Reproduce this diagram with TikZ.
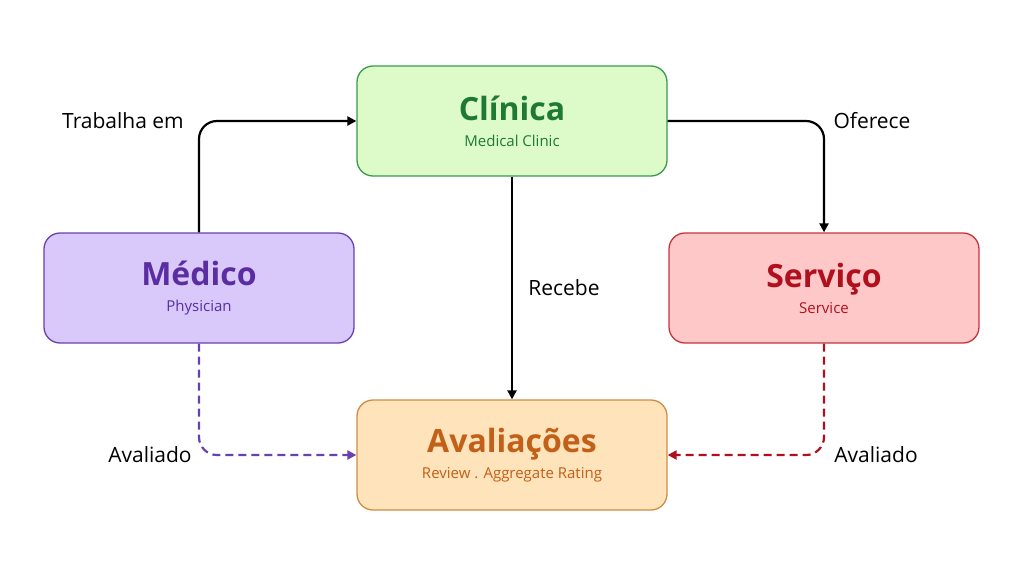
\documentclass[tikz,border=0pt]{standalone}
\usepackage{fontspec}
\setmainfont{Open Sans}
\usetikzlibrary{arrows.meta}
\definecolor{gF}{HTML}{DDFBC9}\definecolor{gB}{HTML}{3A9A4A}\definecolor{gT}{HTML}{1E7A32}
\definecolor{pF}{HTML}{D9C9FA}\definecolor{pB}{HTML}{6A40B0}\definecolor{pT}{HTML}{5B2DA3}
\definecolor{rF}{HTML}{FFC8C8}\definecolor{rB}{HTML}{C4343E}\definecolor{rT}{HTML}{B0101E}
\definecolor{oF}{HTML}{FFE3BA}\definecolor{oB}{HTML}{CC8E44}\definecolor{oT}{HTML}{C25F18}
\begin{document}
\begin{tikzpicture}[x=1pt,y=-1pt,
 box/.style={draw=#1B,fill=#1F,line width=1.3pt,rounded corners=16pt,minimum width=310pt,minimum height=110pt,text=#1T,align=center,font=\fontsize{15}{30}\selectfont},
 ttl/.style={font=\fontsize{32}{36}\bfseries\selectfont},
 lbl/.style={font=\fontsize{21}{24}\selectfont},
 arr/.style={line width=2.2pt,rounded corners=18pt,-{Triangle[length=9pt,width=9pt]}}]
\useasboundingbox (0,0) rectangle (1024,576);
\node[box=g] (c) at (512,121) {{\fontsize{32}{36}\bfseries\selectfont Clínica}\\[-4pt]Medical Clinic};
\node[box=p] (m) at (199,288) {{\fontsize{32}{36}\bfseries\selectfont Médico}\\[-4pt]Physician};
\node[box=r] (s) at (824,288) {{\fontsize{32}{36}\bfseries\selectfont Serviço}\\[-4pt]Service};
\node[box=o] (a) at (512,455) {{\fontsize{32}{36}\bfseries\selectfont Avaliações}\\[-4pt]Review . Aggregate Rating};
\draw[arr] (m.north) |- (c.west);
\draw[arr] (c.east) -| (s.north);
\draw[arr] (c.south) -- (a.north);
\draw[arr,pB,dashed,dash pattern=on 8pt off 5pt] (m.south) |- (a.west);
\draw[arr,rT,dashed,dash pattern=on 8pt off 5pt] (s.south) |- (a.east);
\node[lbl] (l1) at (123,121) {Trabalha em};
\node[lbl] (l2) at (872,121) {Oferece};
\node[lbl] (l3) at (564,288) {Recebe};
\node[lbl] (l4) at (150,455) {Avaliado};
\node[lbl] (l5) at (876,455) {Avaliado};
\end{tikzpicture}
\end{document}
